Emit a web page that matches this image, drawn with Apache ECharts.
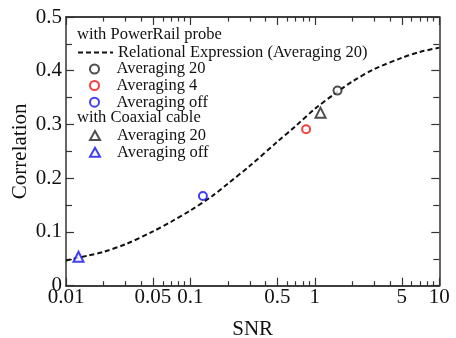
<!DOCTYPE html>
<html><head><meta charset="utf-8">
<script src="https://cdn.jsdelivr.net/npm/echarts@6/dist/echarts.min.js"></script>
<style>html,body{margin:0;padding:0;background:#fff}#c{width:456px;height:338px}</style>
</head><body><div id="c"></div>
<script>
// ---- data ----
const curveSNR  = [0.01,0.015,0.02,0.03,0.05,0.07,0.1,0.15,0.2,0.3,0.5,0.7,1,1.5,2,3,5,7,10];
const curveCorr = [0.047,0.056,0.063,0.077,0.101,0.119,0.140,0.167,0.190,0.223,0.268,0.297,0.329,0.360,0.380,0.403,0.424,0.435,0.443];
const prAvg20SNR = [1.52],  prAvg20Corr = [0.363];
const prAvg4SNR  = [0.85],  prAvg4Corr  = [0.291];
const prOffSNR   = [0.126], prOffCorr   = [0.167];
const coAvg20SNR = [1.11],  coAvg20Corr = [0.322];
const coOffSNR   = [0.0126],coOffCorr   = [0.054];
const xMajorTicks = [0.01,0.05,0.1,0.5,1,5,10];
const xMinorTicks = [0.02,0.03,0.04,0.06,0.07,0.08,0.09,0.2,0.3,0.4,0.6,0.7,0.8,0.9,2,3,4,6,7,8,9];
const yMin = 0, yMax = 0.5, yStep = 0.1;
const legendHeadings = ['with PowerRail probe','with Coaxial cable'];
const seriesNames = ['Relational Expression (Averaging 20)','Averaging 20','Averaging 4','Averaging off','Averaging 20 ','Averaging off '];

const FONT = 'Liberation Serif';
const AX = '#333';
const zip = (a,b) => a.map((v,i)=>[v,b[i]]);
const fmt = v => String(+(+v).toPrecision(6));

function xAxisDef(pos, ticks, len, labels){
  return {
    type:'log', logBase:10, min:0.01, max:10, position:pos, gridIndex:0,
    axisLine:{show:true, onZero:false, lineStyle:{color:AX, width:1.5}},
    axisTick:{show:true, inside:true, length:len, customValues:ticks, lineStyle:{color:AX, width:1.2}},
    axisLabel:{show:labels, customValues:ticks, formatter:fmt, fontFamily:FONT, fontSize:21, color:'#111', margin:1, hideOverlap:false},
    splitLine:{show:false}, minorTick:{show:false}, minorSplitLine:{show:false},
    name: labels && pos==='bottom' ? 'SNR' : '', nameLocation:'middle', nameGap:33, nameMoveOverlap:false,
    nameTextStyle:{fontFamily:FONT, fontSize:21, color:'#111'}
  };
}
function yAxisDef(pos, labels){
  return {
    type:'value', min:yMin, max:yMax, interval:yStep, position:pos,
    axisLine:{show:true, onZero:false, lineStyle:{color:AX, width:1.5}},
    axisTick:{show:true, inside:true, length:8, lineStyle:{color:AX, width:1.2}},
    minorTick:{show:true, splitNumber:2, length:6, lineStyle:{color:AX, width:1.2}},
    axisLabel:{show:labels, fontFamily:FONT, fontSize:21, color:'#111', margin:4, formatter:fmt},
    splitLine:{show:false},
    name: labels ? 'Correlation' : '', nameLocation:'middle', nameGap:35, nameRotate:90, nameMoveOverlap:false,
    nameTextStyle:{fontFamily:FONT, fontSize:21, color:'#111'}
  };
}

const chart = echarts.init(document.getElementById('c'), null, {renderer:'canvas'});
const rowY = [35.5, 52, 68.5, 85, 101.7, 118.3, 135, 151.7];
function legendRow(name, cy, iconW, padL, hideSymbol){
  const r = {
    show:true, data:[name], orient:'horizontal', left: padL!=null ? 89 : 77, top: cy - 8,
    padding:0, itemGap:0, itemWidth:iconW, itemHeight:9, selectedMode:false,
    textStyle:{fontFamily:FONT, fontSize:16.5, color:'#111', lineHeight:16, padding:[0,0,0,padL||0]}
  };
  if (hideSymbol) r.itemStyle = {color:'rgba(0,0,0,0)', borderColor:'rgba(0,0,0,0)', borderWidth:0, opacity:0};
  return r;
}
chart.setOption({
  animation:false,
  backgroundColor:'#fff',
  grid:{left:66, right:16.7, top:17, bottom:52.3, containLabel:false, outerBoundsMode:'none'},
  xAxis:[xAxisDef('bottom', xMajorTicks, 8, true), xAxisDef('bottom', xMinorTicks, 4.5, false),
         xAxisDef('top', xMajorTicks, 8, false), xAxisDef('top', xMinorTicks, 4.5, false)],
  yAxis:[yAxisDef('left', true), yAxisDef('right', false)],
  legend:[
    legendRow(seriesNames[0], rowY[1], 35, null, true),
    legendRow(seriesNames[1], rowY[2], 10, 12),
    legendRow(seriesNames[2], rowY[3], 10, 12),
    legendRow(seriesNames[3], rowY[4], 10, 12),
    legendRow(seriesNames[4], rowY[6], 10, 12),
    legendRow(seriesNames[5], rowY[7], 10, 12)
  ],
  graphic:[
    {type:'text', left:77, top:rowY[0]-9, style:{text:legendHeadings[0], font:'16.5px "Liberation Serif"', fill:'#111'}},
    {type:'text', left:77, top:rowY[5]-9, style:{text:legendHeadings[1], font:'16.5px "Liberation Serif"', fill:'#111'}}
  ],
  series:[
    {name:seriesNames[0], type:'line', data:zip(curveSNR, curveCorr), smooth:0.3, symbol:'none',
     lineStyle:{color:'#111', width:2, type:[5,3]}, itemStyle:{color:'#111'}, z:2},
    {name:seriesNames[1], type:'scatter', data:zip(prAvg20SNR, prAvg20Corr), symbol:'emptyCircle', symbolSize:8,
     itemStyle:{color:'#222', borderColor:'#222', borderWidth:1.6}, z:3},
    {name:seriesNames[2], type:'scatter', data:zip(prAvg4SNR, prAvg4Corr), symbol:'emptyCircle', symbolSize:8,
     itemStyle:{color:'#f01010', borderColor:'#f01010', borderWidth:1.6}, z:3},
    {name:seriesNames[3], type:'scatter', data:zip(prOffSNR, prOffCorr), symbol:'emptyCircle', symbolSize:8,
     itemStyle:{color:'#1010f0', borderColor:'#1010f0', borderWidth:1.6}, z:3},
    {name:seriesNames[4], type:'scatter', data:zip(coAvg20SNR, coAvg20Corr), symbol:'emptyTriangle', symbolSize:10,
     itemStyle:{color:'#222', borderColor:'#222', borderWidth:1.6}, z:3},
    {name:seriesNames[5], type:'scatter', data:zip(coOffSNR, coOffCorr), symbol:'emptyTriangle', symbolSize:10,
     itemStyle:{color:'#1010f0', borderColor:'#1010f0', borderWidth:1.6}, z:3}
  ]
});
</script></body></html>
